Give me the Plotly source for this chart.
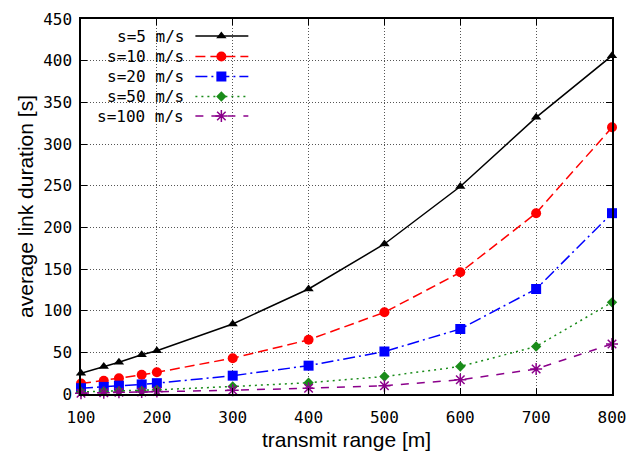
import plotly.graph_objects as go

# ---- data ----
ranges = [100, 130, 150, 180, 200, 300, 400, 500, 600, 700, 800]
s5   = [25, 33, 38, 47, 52, 84, 126, 180, 249, 332, 406]
s10  = [12.5, 16, 19, 23, 26, 43, 65, 98, 146, 217, 320]
s20  = [7, 8.5, 10, 11.5, 13, 22, 34, 51, 78, 126, 217]
s50  = [2.5, 3, 3.5, 4, 5, 9, 13.5, 21, 33, 57, 110]
s100 = [1, 1.5, 2, 2.5, 3, 4.5, 7, 10, 17, 30, 60]
labels = ["s=5 m/s", "s=10 m/s", "s=20 m/s", "s=50 m/s", "s=100 m/s"]

series = [s5, s10, s20, s50, s100]
colors = ["#000000", "#ff0000", "#0000ff", "#1a8c1a", "#8b008b"]
dashes = ["solid", "10px,5px", "12px,4px,2px,4px", "2px,4px", "8px,8px"]
symbols = ["triangle-up", "circle", "square", "diamond", "asterisk-open"]
msizes = [9, 10, 10, 8, 10]

# page has an 8px body margin; lay out in screen pixels then shift
OFF = 8
W, H = 639 - OFF, 452 - OFF
X0, X1, Y0, Y1 = 80.5, 612, 19, 394   # plot box on screen
L, R, T, B = X0 - OFF, W - (X1 - OFF), Y0 - OFF, H - (Y1 - OFF)
pw, ph = X1 - X0, Y1 - Y0

def px_x(x):
    return (x - X0) / pw

def px_y(y):
    return (Y1 - y) / ph

mono = "DejaVu Sans Mono"
fig = go.Figure()

for ys, c, d, sym, ms, lab in zip(series, colors, dashes, symbols, msizes, labels):
    fig.add_trace(go.Scatter(
        x=ranges, y=ys, mode="lines+markers", name=lab, showlegend=False,
        line=dict(color=c, width=1.5, dash=d),
        marker=dict(symbol=sym, size=ms, color=c,
                    line=dict(color=c, width=1.5 if sym == "asterisk-open" else 0)),
        cliponaxis=False,
    ))

# ---- gnuplot-style key (text right, sample left) ----
shapes = [dict(type="rect", xref="paper", yref="paper", layer="between",
               x0=px_x(107), x1=px_x(254), y0=px_y(124), y1=px_y(26),
               fillcolor="white", line=dict(width=0))]
annotations = []
row_y = [36, 56.5, 76.5, 96.5, 116]
for i, (c, d, sym, ms, lab) in enumerate(zip(colors, dashes, symbols, msizes, labels)):
    yy = px_y(row_y[i])
    annotations.append(dict(x=px_x(186), y=yy, xref="paper", yref="paper",
                            text=lab.replace(" ", "&nbsp;"), showarrow=False,
                            xanchor="right", yanchor="middle",
                            font=dict(family=mono, size=16, color="black")))
    fig.add_trace(go.Scatter(
        x=[px_x(195), px_x(221), px_x(248)], y=[yy, yy, yy],
        xaxis="x2", yaxis="y2", mode="lines", showlegend=False, hoverinfo="skip",
        line=dict(color=c, width=1.5, dash=d)))
    fig.add_trace(go.Scatter(
        x=[px_x(221)], y=[yy], xaxis="x2", yaxis="y2", mode="markers",
        showlegend=False, hoverinfo="skip",
        marker=dict(symbol=sym, size=ms, color=c,
                    line=dict(color=c, width=1.5 if sym == "asterisk-open" else 0))))

axis_common = dict(
    showline=True, linecolor="black", linewidth=1.5, mirror="ticks",
    ticks="inside", ticklen=6, tickcolor="black", tickwidth=1,
    showgrid=True, gridcolor="#555555", griddash="1px,2px", gridwidth=1,
    zeroline=False, automargin=False,
    tickfont=dict(family=mono, size=16, color="black"),
)

fig.update_layout(
    width=W, height=H,
    margin=dict(l=L, r=R, t=T, b=B, autoexpand=False),
    paper_bgcolor="white", plot_bgcolor="white",
    xaxis=dict(range=[100, 800], dtick=100, tick0=100, ticklabelstandoff=8,
               title=dict(text="transmit range [m]", standoff=6,
                          font=dict(family="Liberation Sans", size=21, color="black")),
               **axis_common),
    yaxis=dict(range=[0, 450], dtick=50, tick0=0, ticklabelstandoff=4,
               title=dict(text="average link duration [s]", standoff=4,
                          font=dict(family="Liberation Sans", size=21, color="black")),
               **axis_common),
    xaxis2=dict(overlaying="x", range=[0, 1], visible=False, fixedrange=True),
    yaxis2=dict(overlaying="y", range=[0, 1], visible=False, fixedrange=True),
    shapes=shapes, annotations=annotations, showlegend=False,
)

fig.write_html("out.html")
